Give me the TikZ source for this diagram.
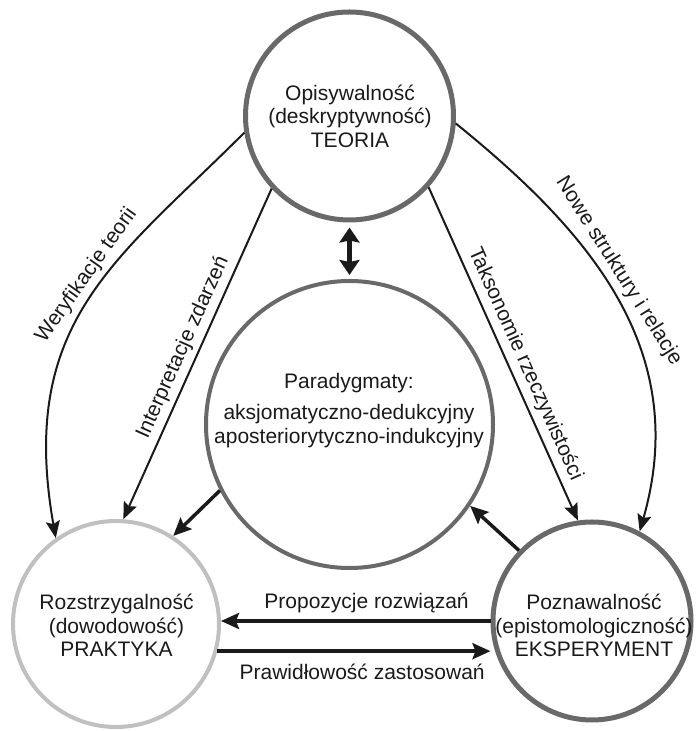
\documentclass[tikz,border=0pt]{standalone}
\usepackage{fontspec}
\setmainfont{Liberation Sans}
\usetikzlibrary{arrows.meta}
\definecolor{ink}{RGB}{26,26,26}
\definecolor{ringdark}{RGB}{105,105,105}
\definecolor{ringlight}{RGB}{192,192,192}
\begin{document}
\begin{tikzpicture}[x=1pt,y=1pt,
  lbl/.style={font=\fontsize{21}{23.5}\selectfont, text=ink, inner sep=2pt},
  ringdarkstyle/.style={circle, draw=ringdark, line width=5pt, inner sep=0pt},
  ringlightstyle/.style={circle, draw=ringlight, line width=4pt, inner sep=0pt},
  lightarrow/.style={draw=ink, line width=2pt, -{Stealth[length=17pt,width=14pt,inset=3pt]}},
  heavyarrow/.style={draw=ink, line width=3.5pt, -{Stealth[length=18pt,width=16pt,inset=3pt]}},
  dblarrow/.style={draw=ink, line width=5pt,
    {Stealth[length=15pt,width=20pt,inset=2pt]}-{Stealth[length=15pt,width=20pt,inset=2pt]}}
]
\useasboundingbox (0,0) rectangle (696,731);

% the four circles
\node[ringdarkstyle, minimum size=208pt] (top) at (349.5,615) {};
\node[ringdarkstyle, line width=4pt, minimum size=287pt] (mid) at (349.5,306.5) {};
\node[ringlightstyle, minimum size=206pt] (bl) at (116,107) {};
\node[ringdarkstyle, minimum size=198pt] (br) at (592,110) {};

% circle texts
\node[lbl, align=center] (toptext) at (350,615) {Opisywalność\\(deskryptywność)\\TEORIA};
\node[lbl, align=center] (midtext) at (349,320.6) {Paradygmaty:\\[8.2pt]aksjomatyczno-dedukcyjny\\aposteriorytyczno-indukcyjny};
\node[lbl, align=center] (bltext) at (116.5,105.3) {Rozstrzygalność\\(dowodowość)\\PRAKTYKA};
\node[lbl, align=center] (brtext) at (594,105.3) {Poznawalność\\(epistomologiczność)\\EKSPERYMENT};

% connectors from the theory circle
\draw[lightarrow] (top.189) .. controls +(225:180) and +(100:220) .. (bl.125)
  node[lbl, pos=0.45, sloped, above=3pt] (verif) {Weryfikacje teorii};
\draw[lightarrow] (top.223) -- (bl.86)
  node[lbl, midway, sloped, above=3pt] (interp) {Interpretacje zdarzeń};
\draw[lightarrow] (top.-42.5) -- (br.98)
  node[lbl, pos=0.55, sloped, above=3pt] (taks) {Taksonomie rzeczywistości};
\draw[lightarrow] (top.-4) .. controls +(-39:170) and +(74:190) .. (br.62)
  node[lbl, pos=0.45, sloped, above=3pt] (nowe) {Nowe struktury i relacje};

% links through the paradigm circle
\draw[dblarrow, shorten <=5pt, shorten >=4pt] (top.south) -- (mid.north);
\draw[heavyarrow] (mid.207.5) -- (bl.57);
\draw[heavyarrow] (br.136) -- (mid.-34);

% links between practice and experiment
\draw[heavyarrow] (br.west) -- (bl.east |- br.west)
  node[lbl, pos=0.46, anchor=base, yshift=12.7pt] (prop) {Propozycje rozwiązań};
\draw[heavyarrow] (bl.-15.5) -- (bl.-15.5 -| br.west)
  node[lbl, pos=0.53, anchor=base, yshift=-28pt] (praw) {Prawidłowość zastosowań};
\end{tikzpicture}
\end{document}
